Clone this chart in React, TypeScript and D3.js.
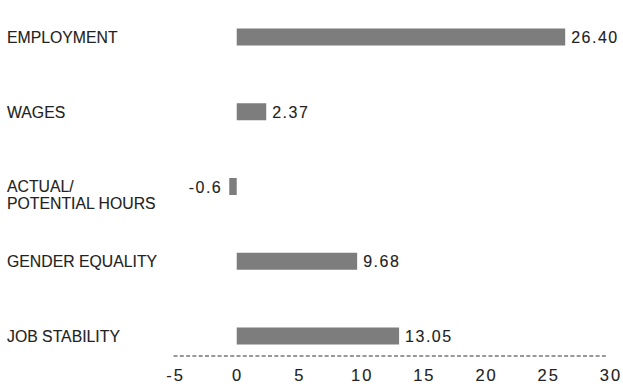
import React from "react";
import * as d3 from "d3";

// Contribution of each labour-market dimension
const categories: string[][] = [
  ["EMPLOYMENT"],
  ["WAGES"],
  ["ACTUAL/", "POTENTIAL HOURS"],
  ["GENDER EQUALITY"],
  ["JOB STABILITY"],
];
const values: number[] = [26.4, 2.37, -0.6, 9.68, 13.05];
const valueLabels: string[] = ["26.40", "2.37", "-0.6", "9.68", "13.05"];
const tickValues: number[] = [-5, 0, 5, 10, 15, 20, 25, 30];

const W = 623;
const H = 387;
const TEXT = "#222";
const BAR = "#7d7d7d";
const FONT = "'Liberation Sans', Arial, sans-serif";

// a faint hairline stroke gives the text a touch more weight
const textStyle = { stroke: TEXT, strokeWidth: 0.12 };

export default function App() {
  const x = d3.scaleLinear().domain([-5, 30]).range([174.5, 610]);
  const y = d3
    .scalePoint<number>()
    .domain(d3.range(categories.length))
    .range([37, 336]);
  const barH = 17;
  const axisY = 356;

  return (
    <svg
      width={W}
      height={H}
      style={{ position: "absolute", left: 0, top: 0, background: "#fff" }}
      fontFamily={FONT}
    >
      {categories.map((lines, i) => {
        const cy = y(i)!;
        const v = values[i];
        const x0 = x(Math.min(0, v));
        const x1 = x(Math.max(0, v));
        return (
          <g key={i}>
            {lines.map((ln, j) => (
              <text
                key={j}
                x={7}
                y={cy + 5.8 + j * 16.5}
                fontSize={15.8}
                fill={TEXT}
                style={textStyle}
              >
                {ln}
              </text>
            ))}
            <rect x={x0} y={cy - barH / 2} width={x1 - x0} height={barH} fill={BAR} />
            <text
              x={v >= 0 ? x1 + 6 : x0 - 7}
              y={cy + 6}
              textAnchor={v >= 0 ? "start" : "end"}
              fontSize={16}
              letterSpacing={1.5}
              fill={TEXT}
              style={textStyle}
            >
              {valueLabels[i]}
            </text>
          </g>
        );
      })}
      <line
        x1={x(-5) - 1}
        x2={x(30) - 3}
        y1={axisY}
        y2={axisY}
        stroke="#333"
        strokeWidth={1}
        strokeDasharray="4,2.3"
      />
      {tickValues.map((t) => (
        <text
          key={t}
          x={x(t) + 1}
          y={381}
          textAnchor="middle"
          fontSize={16.5}
          letterSpacing={2}
          fill={TEXT}
          style={textStyle}
        >
          {String(t)}
        </text>
      ))}
    </svg>
  );
}
